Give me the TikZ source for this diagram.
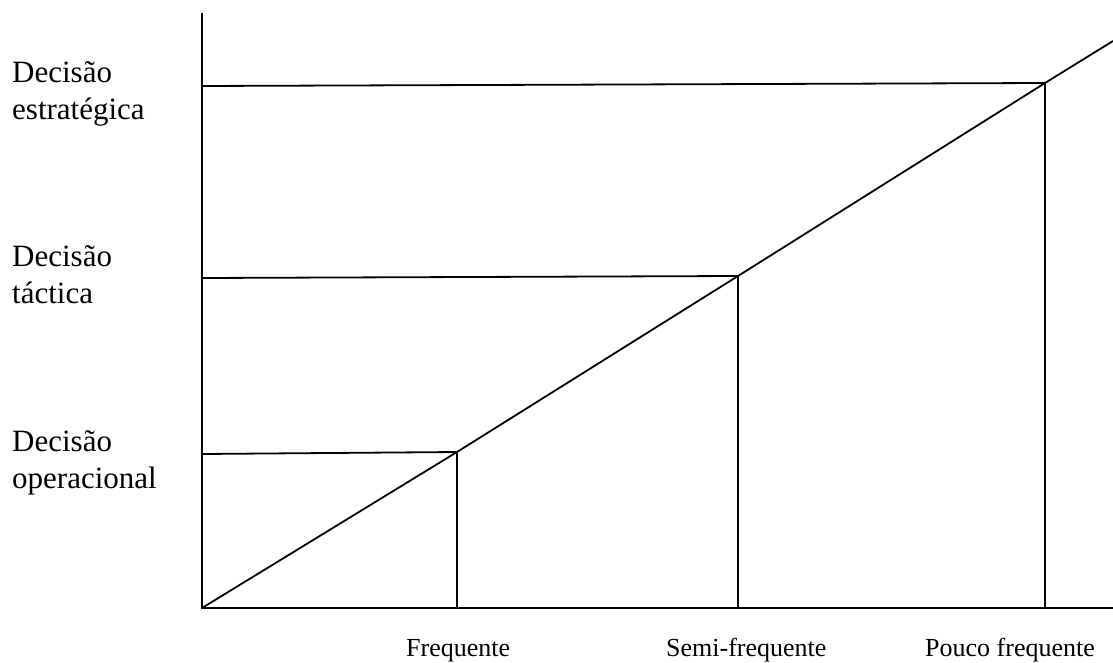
\documentclass[tikz,border=0pt]{standalone}
\usepackage{fontspec}
\setmainfont{Liberation Serif}
\begin{document}
\begin{tikzpicture}[x=1pt,y=-1pt,
  axis/.style={line width=1.8pt,black},
  guide/.style={line width=1.8pt,black},
  leftlab/.style={anchor=base west,inner sep=0pt,font=\fontsize{31}{37}\selectfont},
  botlab/.style={anchor=base west,inner sep=0pt,font=\fontsize{26}{30}\selectfont}]
\useasboundingbox (0,0) rectangle (1113,663);
% axes
\coordinate (top) at (202,13);
\coordinate (o) at (202,608);
\coordinate (xend) at (1113,608);
\coordinate (dend) at (1113,41);
% junctions on diagonal
\coordinate (p1) at (457,452);
\coordinate (p2) at (738,276);
\coordinate (p3) at (1045,83);
% left ends of horizontal lines
\coordinate (l1) at (202,454);
\coordinate (l2) at (202,278);
\coordinate (l3) at (202,86);
% foot of vertical lines
\coordinate (f1) at (457,608);
\coordinate (f2) at (738,608);
\coordinate (f3) at (1045,608);
\draw[axis] (top) -- (o) -- (xend);
\draw[guide] (o) -- (p1) -- (p2) -- (p3) -- (dend);
\draw[guide] (l1) -- (p1) -- (f1);
\draw[guide] (l2) -- (p2) -- (f2);
\draw[guide] (l3) -- (p3) -- (f3);
% left labels
\node[leftlab] (s1) at (12,83) {Decisão};
\node[leftlab] (s2) at (12,120) {estratégica};
\node[leftlab] (t1) at (12,266) {Decisão};
\node[leftlab] (t2) at (12,303) {táctica};
\node[leftlab] (o1) at (12,451) {Decisão};
\node[leftlab] (o2) at (12,488) {operacional};
% bottom labels
\node[botlab] (b1) at (406,656) {Frequente};
\node[botlab] (b2) at (666,656) {Semi-frequente};
\node[botlab] (b3) at (925,656) {Pouco frequente};
\end{tikzpicture}
\end{document}
